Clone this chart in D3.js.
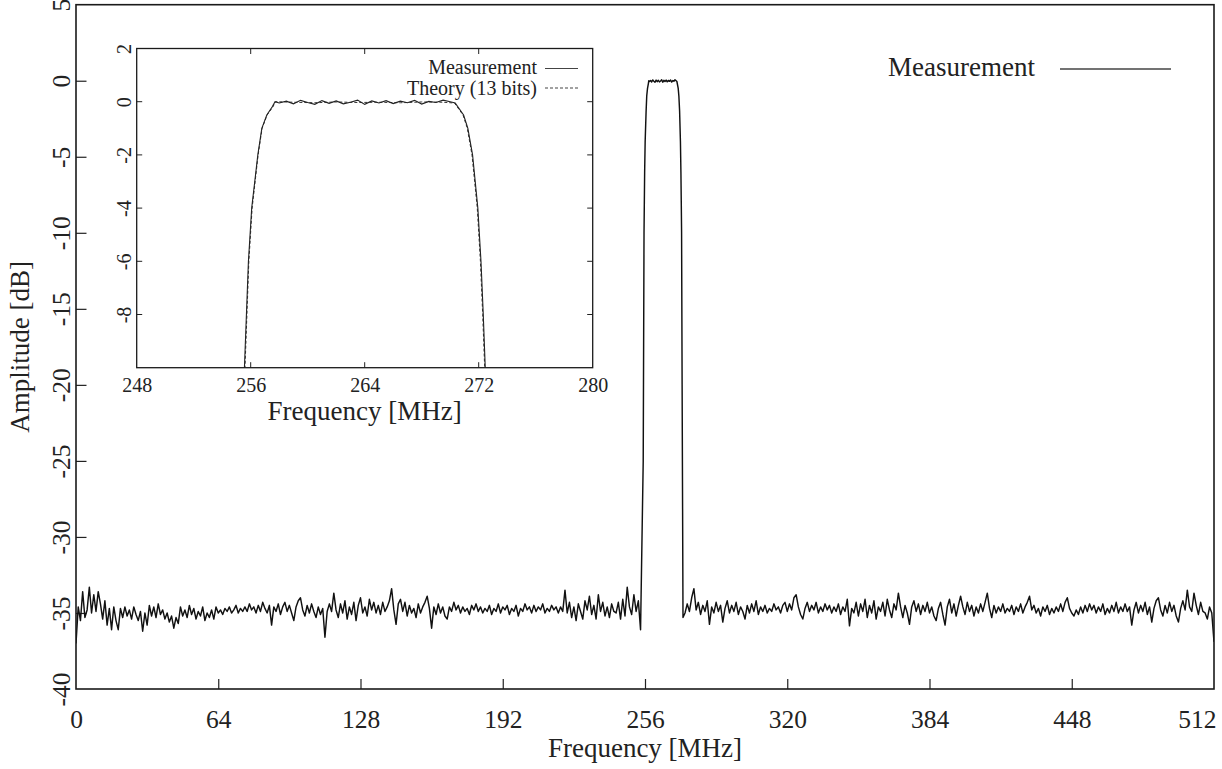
<!DOCTYPE html>
<html><head><meta charset="utf-8">
<script src="https://cdn.jsdelivr.net/npm/d3@7"></script>
<style>
body{margin:0;background:#fff;}
svg{display:block;font-family:"Liberation Serif","Times New Roman",serif;}
</style></head>
<body><svg id="c" width="1222" height="769"></svg>
<script>
// ---- Data ----
// Noise floor below the passband, 1 MHz steps, f = 0..254 MHz
const noiseLow = [-37.0,-34.6,-35.5,-33.6,-35.3,-34.8,-33.3,-35.0,-33.8,-34.9,
-33.6,-34.4,-35.4,-34.2,-35.8,-34.7,-36.1,-34.6,-35.5,-36.1,
-34.7,-35.3,-34.6,-35.2,-34.8,-35.4,-34.6,-35.1,-35.5,-34.9,
-36.2,-35.0,-35.8,-34.5,-35.2,-34.6,-35.3,-34.4,-35.1,-34.8,
-35.4,-35.0,-35.6,-35.2,-36.0,-35.3,-35.7,-34.6,-35.2,-34.8,
-35.3,-34.5,-35.1,-34.7,-35.4,-34.9,-35.2,-34.6,-35.5,-35.0,
-35.3,-34.8,-35.4,-34.6,-35.0,-34.8,-35.1,-34.7,-34.9,-34.6,
-35.0,-34.8,-34.5,-35.0,-34.7,-34.9,-34.6,-34.9,-34.4,-34.8,
-34.6,-35.0,-34.5,-34.9,-34.3,-34.7,-35.0,-34.5,-35.8,-34.6,
-34.9,-34.4,-35.1,-34.6,-34.3,-34.9,-34.5,-35.0,-35.5,-34.6,
-34.2,-34.0,-34.8,-35.2,-34.5,-35.0,-34.4,-34.9,-35.3,-34.6,
-35.1,-34.7,-36.6,-34.9,-34.4,-34.9,-33.7,-34.8,-35.3,-34.4,
-35.0,-34.2,-35.4,-34.6,-35.1,-34.3,-35.5,-34.5,-34.0,-35.0,
-34.6,-35.2,-34.1,-34.8,-34.3,-35.0,-34.5,-35.1,-34.3,-34.9,
-34.6,-34.2,-33.4,-34.8,-35.75,-34.4,-34.1,-34.9,-34.3,-35.2,
-34.5,-35.0,-34.7,-35.3,-34.4,-35.0,-34.6,-34.3,-33.9,-34.7,
-36.0,-34.6,-35.1,-34.4,-35.0,-34.6,-35.2,-35.4,-34.6,-34.9,
-34.3,-34.8,-34.5,-35.0,-34.6,-34.9,-34.7,-35.1,-34.5,-34.8,
-34.4,-34.9,-34.6,-35.0,-34.7,-34.9,-34.5,-35.1,-34.7,-34.9,
-34.4,-35.0,-34.6,-34.8,-34.5,-35.1,-34.7,-34.9,-34.5,-35.2,
-34.7,-34.9,-34.4,-34.8,-34.6,-35.0,-34.5,-34.9,-34.6,-34.8,
-34.4,-35.0,-34.7,-34.9,-34.5,-34.8,-34.6,-35.0,-34.6,-34.9,
-33.5,-35.0,-34.3,-35.3,-34.6,-35.5,-34.4,-34.9,-35.4,-34.2,
-34.8,-33.9,-35.1,-34.5,-35.4,-33.8,-34.9,-34.3,-35.2,-34.6,
-35.3,-34.4,-34.9,-35.0,-34.3,-35.4,-34.1,-35.2,-33.3,-34.6,
-35.1,-33.8,-34.9,-34.2,-36.1];
const noiseLowStart = 0;

// Passband (measured) frequencies and amplitudes
const passFreq = [255.2,255.56,255.84,256.07,256.5,256.78,257.13,257.5,257.71,
258,258.5,259,259.5,260,260.5,261,261.5,262,262.5,263,263.5,264,264.5,265,265.5,
266,266.5,267,267.5,268,268.5,269,269.5,270,270.35,
270.94,271.24,271.57,271.94,272.16,272.32,272.46,272.7,273.1];
const passAmp = [-25,-10,-6,-4,-2,-1,-0.5,-0.2,0,
-0.05,0.02,-0.08,0.05,-0.03,-0.1,0.04,-0.06,0.03,-0.08,-0.02,0.06,-0.1,0.03,-0.05,0.04,
-0.07,0.02,-0.04,0.05,-0.09,0.01,-0.03,0.06,0.0,-0.05,
-0.5,-1,-2,-4,-6,-8,-10,-20,-35.3];

// Noise floor above the passband, 1 MHz steps, f = 274..512 MHz
const noiseHighStart = 274;
const noiseHigh = [-35.0,-34.4,-34.9,-34.0,-33.4,-34.8,-34.3,-35.1,-34.5,-34.9,
-34.2,-35.75,-34.6,-35.0,-34.3,-34.9,-34.5,-35.6,-34.7,-34.2,
-35.0,-34.5,-34.9,-34.3,-35.1,-34.6,-34.9,-35.4,-34.5,-35.0,
-34.4,-34.9,-34.2,-35.1,-34.6,-34.9,-34.5,-35.0,-34.7,-34.9,
-34.4,-34.8,-34.6,-35.0,-34.5,-34.3,-34.9,-34.4,-34.8,-34.0,
-33.8,-34.6,-35.1,-35.4,-34.7,-34.3,-34.9,-34.5,-34.8,-34.3,
-35.0,-34.6,-34.9,-34.4,-34.8,-34.5,-35.0,-34.6,-34.9,-34.4,
-35.1,-34.6,-34.9,-34.1,-35.85,-34.7,-35.0,-34.3,-35.2,-34.4,
-34.9,-34.1,-35.3,-34.5,-35.0,-34.2,-35.4,-34.6,-34.9,-34.3,
-35.2,-34.1,-34.8,-35.3,-34.4,-34.8,-33.7,-34.6,-35.3,-34.5,
-35.0,-35.75,-34.6,-34.2,-34.9,-34.4,-35.1,-34.5,-34.9,-34.3,
-35.0,-34.6,-35.2,-35.5,-34.7,-34.3,-35.1,-35.8,-34.6,-34.1,
-35.0,-34.4,-35.2,-34.5,-33.9,-34.6,-35.1,-34.3,-34.9,-34.5,
-35.2,-34.6,-35.0,-34.4,-34.9,-34.3,-33.7,-34.7,-35.3,-34.5,
-35.0,-34.6,-34.9,-34.4,-35.0,-34.7,-34.9,-34.5,-35.1,-34.6,
-34.9,-34.4,-35.0,-34.6,-34.3,-33.9,-34.8,-34.5,-35.0,-34.7,
-35.2,-34.6,-34.9,-34.5,-35.1,-34.7,-35.0,-34.6,-34.9,-34.4,
-34.9,-34.3,-34.0,-34.7,-35.0,-35.2,-34.8,-35.1,-34.6,-35.0,
-34.5,-34.9,-34.4,-34.8,-34.5,-35.0,-34.6,-34.9,-34.4,-35.1,
-34.7,-35.0,-34.5,-34.9,-34.3,-35.0,-34.6,-34.9,-34.4,-34.9,
-34.6,-35.8,-34.8,-34.3,-35.0,-34.5,-34.9,-34.3,-35.1,-34.6,
-35.6,-34.7,-34.2,-34.0,-34.8,-35.2,-34.5,-35.0,-34.3,-34.9,
-34.5,-35.2,-35.6,-34.7,-34.2,-34.8,-33.5,-34.6,-34.9,-33.7,
-34.5,-35.1,-34.3,-34.9,-35.0,-35.4,-34.6,-35.0,-36.9];

// Inset: theory (13 bits)
const theoryFreq = [255.3,255.6,255.87,256.1,256.52,256.8,257.15,257.55,257.75,
259,260.5,262,263.5,265,266.5,268,269.5,270.3,270.9,271.2,271.53,271.9,272.12,272.28,272.42,272.7];
const theoryAmp = [-20,-10,-6,-4,-2,-1,-0.5,-0.2,0,
-0.02,-0.04,-0.01,-0.03,-0.02,-0.04,-0.01,-0.02,-0.05,-0.5,-1,-2,-4,-6,-8,-10,-20];

const mainXTicks = [0,64,128,192,256,320,384,448,512];
const mainYTicks = [5,0,-5,-10,-15,-20,-25,-30,-35,-40];
const insetXTicks = [248,256,264,272,280];
const insetYTicks = [2,0,-2,-4,-6,-8];
const insetYAllTicks = [2,0,-2,-4,-6,-8,-10];

// ---- Build series ----
const measured = [];
noiseLow.forEach((v,i)=>measured.push([noiseLowStart+i,v]));
passFreq.forEach((f,i)=>measured.push([f,passAmp[i]]));
noiseHigh.forEach((v,i)=>measured.push([noiseHighStart+i,v]));
const theory = theoryFreq.map((f,i)=>[f,theoryAmp[i]]);

const fmt = d => String(d);
const svg = d3.select("#c");
const M = {l:76, r:1214, t:4.7, b:689};
const x = d3.scaleLinear().domain([0,512]).range([M.l,M.r]);
const y = d3.scaleLinear().domain([-40,5]).range([M.b,M.t]);

// main ticks
const gx = svg.append("g").attr("transform",`translate(0,${M.b})`)
  .call(d3.axisBottom(x).tickValues(mainXTicks).tickSize(-10).tickFormat(fmt));
gx.select(".domain").remove();
gx.selectAll("line").attr("stroke","#222").attr("stroke-width",1.2);
gx.selectAll("text").attr("font-size",25.5).attr("fill","#222").attr("font-family","Liberation Serif")
  .attr("dy",null).attr("y",39);
gx.selectAll(".tick text").filter(d=>d===512).attr("text-anchor","end").attr("x",2);

const gy = svg.append("g").attr("transform",`translate(${M.l},0)`)
  .call(d3.axisLeft(y).tickValues(mainYTicks).tickSize(-10.5).tickFormat(fmt));
gy.select(".domain").remove();
gy.selectAll("line").attr("stroke","#222").attr("stroke-width",1.2);
gy.selectAll("text").attr("font-size",25.5).attr("fill","#222").attr("font-family","Liberation Serif")
  .attr("x",null).attr("dy",null).attr("text-anchor","middle")
  .attr("transform","translate(-6,0) rotate(-90)").attr("y",0);
gy.selectAll(".tick text").filter(d=>d===-40).attr("text-anchor","start").attr("x",-17);
gy.selectAll(".tick line").filter(d=>d===5||d===-40).remove();
gx.selectAll(".tick line").filter(d=>d===0||d===512).remove();

// main line
const line = d3.line().x(d=>x(d[0])).y(d=>y(d[1]));
svg.append("defs").append("clipPath").attr("id","mclip")
  .append("rect").attr("x",M.l).attr("y",M.t).attr("width",M.r-M.l).attr("height",M.b-M.t);
svg.append("path").datum(measured).attr("d",line).attr("fill","none")
  .attr("stroke","#111").attr("stroke-width",1.45).attr("stroke-linejoin","round").attr("clip-path","url(#mclip)");

// main frame
svg.append("rect").attr("x",M.l).attr("y",M.t).attr("width",M.r-M.l).attr("height",M.b-M.t)
  .attr("fill","none").attr("stroke","#1a1a1a").attr("stroke-width",1.6);

// main titles
svg.append("text").attr("x",(M.l+M.r)/2).attr("y",757).attr("text-anchor","middle")
  .attr("font-size",27).attr("fill","#222").text("Frequency [MHz]");
svg.append("text").attr("transform",`translate(29,${(M.t+M.b)/2}) rotate(-90)`).attr("text-anchor","middle")
  .attr("font-size",27).attr("fill","#222").text("Amplitude [dB]");

// main legend
svg.append("text").attr("x",1035).attr("y",76).attr("text-anchor","end")
  .attr("font-size",27).attr("fill","#222").text("Measurement");
svg.append("line").attr("x1",1060).attr("x2",1171).attr("y1",69).attr("y2",69)
  .attr("stroke","#444").attr("stroke-width",1.3);

// ---- Inset ----
const I = {l:136.7, r:592.7, t:48.5, b:367.7};
const xi = d3.scaleLinear().domain([248,280]).range([I.l,I.r]);
const yi = d3.scaleLinear().domain([-10,2]).range([I.b,I.t]);
const gi = svg.append("g");
gi.append("rect").attr("x",I.l).attr("y",I.t).attr("width",I.r-I.l).attr("height",I.b-I.t).attr("fill","#fff");

const tickLen = 5.5;
insetXTicks.forEach(t=>{
  if(t===248||t===280) return;
  gi.append("line").attr("x1",xi(t)).attr("x2",xi(t)).attr("y1",I.b).attr("y2",I.b-tickLen).attr("stroke","#222");
  gi.append("line").attr("x1",xi(t)).attr("x2",xi(t)).attr("y1",I.t).attr("y2",I.t+tickLen).attr("stroke","#222");
});
insetYAllTicks.forEach(t=>{
  if(t===2||t===-10) return;
  gi.append("line").attr("x1",I.l).attr("x2",I.l+tickLen).attr("y1",yi(t)).attr("y2",yi(t)).attr("stroke","#222");
  gi.append("line").attr("x1",I.r).attr("x2",I.r-tickLen).attr("y1",yi(t)).attr("y2",yi(t)).attr("stroke","#222");
});
const gxi = gi.append("g").attr("transform",`translate(0,${I.b})`)
  .call(d3.axisBottom(xi).tickValues(insetXTicks).tickSize(0).tickFormat(fmt));
gxi.select(".domain").remove();
gxi.selectAll("text").attr("font-size",20).attr("fill","#222").attr("font-family","Liberation Serif")
  .attr("dy",null).attr("y",24);
const gyi = gi.append("g").attr("transform",`translate(${I.l},0)`)
  .call(d3.axisLeft(yi).tickValues(insetYTicks).tickSize(0).tickFormat(fmt));
gyi.select(".domain").remove();
gyi.selectAll("text").attr("font-size",20).attr("fill","#222").attr("font-family","Liberation Serif")
  .attr("x",null).attr("dy",null).attr("text-anchor","middle")
  .attr("transform","translate(-6,0) rotate(-90)").attr("y",0);

gi.append("defs").append("clipPath").attr("id","iclip")
  .append("rect").attr("x",I.l).attr("y",I.t).attr("width",I.r-I.l).attr("height",I.b-I.t);
const linei = d3.line().x(d=>xi(d[0])).y(d=>yi(d[1]));
gi.append("path").datum(theory).attr("d",linei).attr("fill","none")
  .attr("stroke","#333").attr("stroke-width",1).attr("stroke-dasharray","3,2").attr("clip-path","url(#iclip)");
gi.append("path").datum(measured).attr("d",linei).attr("fill","none")
  .attr("stroke","#222").attr("stroke-width",1.1).attr("clip-path","url(#iclip)");

gi.append("rect").attr("x",I.l).attr("y",I.t).attr("width",I.r-I.l).attr("height",I.b-I.t)
  .attr("fill","none").attr("stroke","#1a1a1a").attr("stroke-width",1.3);

gi.append("text").attr("x",(I.l+I.r)/2).attr("y",420).attr("text-anchor","middle")
  .attr("font-size",27).attr("fill","#222").text("Frequency [MHz]");

gi.append("text").attr("x",537).attr("y",73.5).attr("text-anchor","end")
  .attr("font-size",20).attr("fill","#222").text("Measurement");
gi.append("line").attr("x1",545).attr("x2",578).attr("y1",68.5).attr("y2",68.5)
  .attr("stroke","#444").attr("stroke-width",1.1);
gi.append("text").attr("x",537).attr("y",94.5).attr("text-anchor","end")
  .attr("font-size",20).attr("fill","#222").text("Theory (13 bits)");
gi.append("line").attr("x1",545).attr("x2",578).attr("y1",88).attr("y2",88)
  .attr("stroke","#444").attr("stroke-width",1).attr("stroke-dasharray","3,2");
</script></body></html>
